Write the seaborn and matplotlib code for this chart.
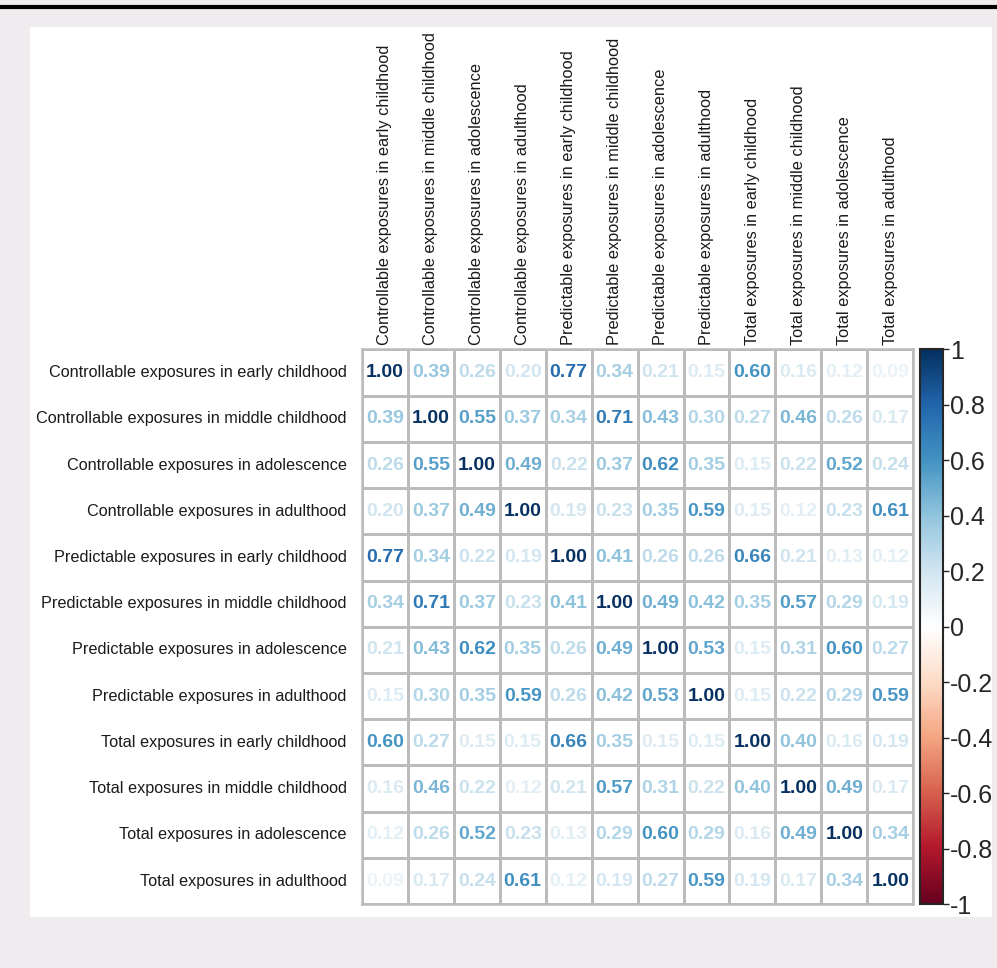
import numpy as np
import pandas as pd
import seaborn as sns
import matplotlib.pyplot as plt
from matplotlib.colors import LinearSegmentedColormap, Normalize
from matplotlib.patches import Rectangle
from matplotlib.lines import Line2D

# variables (rows = columns)
labels = [
    "Controllable exposures in early childhood",
    "Controllable exposures in middle childhood",
    "Controllable exposures in adolescence",
    "Controllable exposures in adulthood",
    "Predictable exposures in early childhood",
    "Predictable exposures in middle childhood",
    "Predictable exposures in adolescence",
    "Predictable exposures in adulthood",
    "Total exposures in early childhood",
    "Total exposures in middle childhood",
    "Total exposures in adolescence",
    "Total exposures in adulthood",
]

# correlation matrix
r_ctrl_early = [1.00, 0.39, 0.26, 0.20, 0.77, 0.34, 0.21, 0.15, 0.60, 0.16, 0.12, 0.09]
r_ctrl_mid   = [0.39, 1.00, 0.55, 0.37, 0.34, 0.71, 0.43, 0.30, 0.27, 0.46, 0.26, 0.17]
r_ctrl_adol  = [0.26, 0.55, 1.00, 0.49, 0.22, 0.37, 0.62, 0.35, 0.15, 0.22, 0.52, 0.24]
r_ctrl_adult = [0.20, 0.37, 0.49, 1.00, 0.19, 0.23, 0.35, 0.59, 0.15, 0.12, 0.23, 0.61]
r_pred_early = [0.77, 0.34, 0.22, 0.19, 1.00, 0.41, 0.26, 0.26, 0.66, 0.21, 0.13, 0.12]
r_pred_mid   = [0.34, 0.71, 0.37, 0.23, 0.41, 1.00, 0.49, 0.42, 0.35, 0.57, 0.29, 0.19]
r_pred_adol  = [0.21, 0.43, 0.62, 0.35, 0.26, 0.49, 1.00, 0.53, 0.15, 0.31, 0.60, 0.27]
r_pred_adult = [0.15, 0.30, 0.35, 0.59, 0.26, 0.42, 0.53, 1.00, 0.15, 0.22, 0.29, 0.59]
r_tot_early  = [0.60, 0.27, 0.15, 0.15, 0.66, 0.35, 0.15, 0.15, 1.00, 0.40, 0.16, 0.19]
r_tot_mid    = [0.16, 0.46, 0.22, 0.12, 0.21, 0.57, 0.31, 0.22, 0.40, 1.00, 0.49, 0.17]
r_tot_adol   = [0.12, 0.26, 0.52, 0.23, 0.13, 0.29, 0.60, 0.29, 0.16, 0.49, 1.00, 0.34]
r_tot_adult  = [0.09, 0.17, 0.24, 0.61, 0.12, 0.19, 0.27, 0.59, 0.19, 0.17, 0.34, 1.00]

corr = pd.DataFrame(
    [r_ctrl_early, r_ctrl_mid, r_ctrl_adol, r_ctrl_adult,
     r_pred_early, r_pred_mid, r_pred_adol, r_pred_adult,
     r_tot_early, r_tot_mid, r_tot_adol, r_tot_adult],
    index=labels, columns=labels)

cbar_ticks = [-1, -0.8, -0.6, -0.4, -0.2, 0, 0.2, 0.4, 0.6, 0.8, 1]
cbar_ticklabels = ["-1", "-0.8", "-0.6", "-0.4", "-0.2", "0", "0.2", "0.4", "0.6", "0.8", "1"]

sns.set_style("white")
plt.rcParams["font.family"] = ["Liberation Sans", "DejaVu Sans"]

# corrplot style RdBu palette
rdbu = LinearSegmentedColormap.from_list("rdbu", [
    "#67001F", "#B2182B", "#D6604D", "#F4A582", "#FDDBC7", "#FFFFFF",
    "#D1E5F0", "#92C5DE", "#4393C3", "#2166AC", "#053061"])
norm = Normalize(-1, 1)

fig = plt.figure(figsize=(9.97, 9.68), dpi=100, facecolor="#efebef")
# white panel and top rule
fig.patches.append(Rectangle((0.030, 0.053), 0.965, 0.919, transform=fig.transFigure,
                             facecolor="white", edgecolor="none", zorder=-10))
fig.lines.append(Line2D([0, 1], [0.993, 0.993], transform=fig.transFigure,
                        color="black", lw=3))

ax = fig.add_axes([0.363, 0.066, 0.553, 0.573])
cax = fig.add_axes([0.923, 0.066, 0.023, 0.573])

sns.heatmap(corr, ax=ax, cmap=LinearSegmentedColormap.from_list("w", ["white", "white"]),
            cbar=False, annot=True, fmt=".2f", linewidths=1.8, linecolor="#bcbcbc",
            annot_kws={"fontsize": 14, "fontweight": "bold"}, square=False)

# colour the numbers by their value
vals = corr.values.flatten()
for t, v in zip(ax.texts, vals):
    t.set_color(rdbu(norm(v)))

ax.xaxis.tick_top()
ax.set_xticklabels(labels, rotation=90, fontsize=11.8, color="#1a1a1a")
ax.set_yticklabels(labels, rotation=0, fontsize=11.7, color="#1a1a1a")
ax.tick_params(axis="x", length=0, pad=3)
ax.tick_params(axis="y", length=0, pad=11)
for s in ax.spines.values():
    s.set_visible(True)
    s.set_color("#bcbcbc")
    s.set_linewidth(1.8)

sm = plt.cm.ScalarMappable(cmap=rdbu, norm=norm)
cb = fig.colorbar(sm, cax=cax, ticks=cbar_ticks)
cb.ax.set_yticklabels(cbar_ticklabels, fontsize=18)
cb.ax.tick_params(length=4, width=1, pad=1)
cb.outline.set_linewidth(1.5)

fig.savefig("out.png", dpi=100, facecolor=fig.get_facecolor())
